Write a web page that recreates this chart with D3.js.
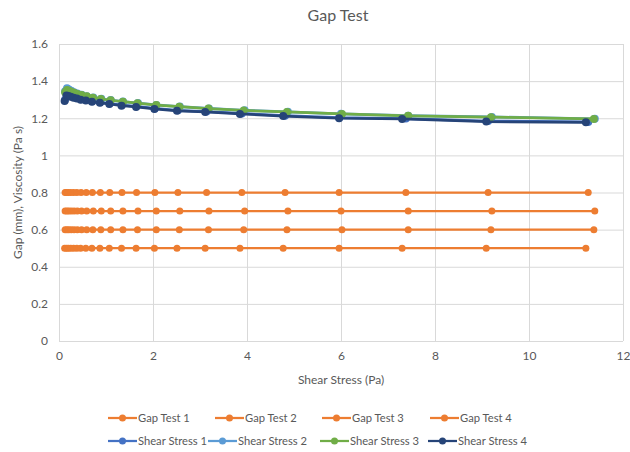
<!DOCTYPE html>
<html><head><meta charset="utf-8">
<script src="https://cdn.jsdelivr.net/npm/d3@7"></script>
<style>body{margin:0;background:#fff}svg{display:block;font-family:Lato,"Open Sans",sans-serif}</style>
</head><body><svg id="c" width="630" height="452"></svg>
<script>
const seriesNames = ["Gap Test 1","Gap Test 2","Gap Test 3","Gap Test 4","Shear Stress 1","Shear Stress 2","Shear Stress 3","Shear Stress 4"];
const xGT1 = [0.13,0.16,0.20,0.25,0.31,0.38,0.47,0.58,0.71,0.88,1.08,1.34,1.65,2.04,2.53,3.14,3.89,4.81,5.96,7.38,9.13,11.26];
const xGT2 = [0.13,0.17,0.21,0.26,0.32,0.39,0.48,0.59,0.73,0.90,1.10,1.36,1.68,2.07,2.57,3.19,3.95,4.87,6.00,7.43,9.21,11.40];
const xGT3 = [0.13,0.17,0.21,0.26,0.32,0.39,0.48,0.59,0.72,0.89,1.10,1.36,1.67,2.07,2.56,3.18,3.93,4.85,6.02,7.43,9.19,11.38];
const xGT4 = [0.12,0.16,0.20,0.25,0.31,0.38,0.46,0.57,0.70,0.87,1.07,1.33,1.64,2.03,2.51,3.11,3.85,4.77,5.96,7.30,9.09,11.21];
const gap1 = 0.8, gap2 = 0.7, gap3 = 0.6, gap4 = 0.5;
const visc1 = [1.300,1.328,1.325,1.320,1.315,1.309,1.303,1.298,1.292,1.286,1.280,1.271,1.264,1.253,1.243,1.236,1.226,1.214,1.203,1.198,1.185,1.180];
const visc2 = [1.345,1.362,1.355,1.348,1.340,1.333,1.326,1.319,1.312,1.305,1.298,1.290,1.282,1.272,1.263,1.253,1.243,1.235,1.224,1.214,1.207,1.197];
const visc3 = [1.340,1.352,1.348,1.343,1.337,1.331,1.325,1.318,1.311,1.304,1.297,1.289,1.281,1.271,1.262,1.252,1.242,1.234,1.223,1.213,1.206,1.196];
const visc4 = [1.293,1.322,1.320,1.316,1.311,1.306,1.300,1.295,1.289,1.283,1.277,1.268,1.261,1.250,1.240,1.234,1.223,1.212,1.200,1.196,1.182,1.178];
const xTicks = [0,2,4,6,8,10,12];
const yTicks = [0,0.2,0.4,0.6,0.8,1,1.2,1.4,1.6];
const colors = ["#ED7D31","#ED7D31","#ED7D31","#ED7D31","#4472C4","#5B9BD5","#70AD47","#264478"];

const series = [
  {name:seriesNames[0], xs:xGT1, ys:xGT1.map(()=>gap1)},
  {name:seriesNames[1], xs:xGT2, ys:xGT2.map(()=>gap2)},
  {name:seriesNames[2], xs:xGT3, ys:xGT3.map(()=>gap3)},
  {name:seriesNames[3], xs:xGT4, ys:xGT4.map(()=>gap4)},
  {name:seriesNames[4], xs:xGT1, ys:visc1},
  {name:seriesNames[5], xs:xGT2, ys:visc2},
  {name:seriesNames[6], xs:xGT3, ys:visc3},
  {name:seriesNames[7], xs:xGT4, ys:visc4}
];
series.forEach((s,i)=>{s.color=colors[i]; s.pts=s.xs.map((x,j)=>[x,s.ys[j]]);});

const svg = d3.select("#c");
const L=59, R=623, T=44, B=341;
const x = d3.scaleLinear().domain([0,12]).range([L,R]);
const y = d3.scaleLinear().domain([0,1.6]).range([B,T]);
const txt="#595959", grid="#D9D9D9";
const FF = "Lato,'Open Sans',sans-serif";

svg.append("text").attr("x",(L+R)/2-3).attr("y",21).attr("text-anchor","middle")
  .attr("font-size",16).attr("fill",txt).text("Gap Test");

// grids
svg.append("g").selectAll("line").data(yTicks).join("line")
  .attr("x1",L).attr("x2",R).attr("y1",d=>y(d)+0.5).attr("y2",d=>y(d)+0.5)
  .attr("stroke",grid).attr("stroke-width",1);
svg.append("g").selectAll("line").data(xTicks).join("line")
  .attr("y1",T).attr("y2",B).attr("x1",d=>Math.round(x(d))+0.5).attr("x2",d=>Math.round(x(d))+0.5)
  .attr("stroke",grid).attr("stroke-width",1);

// axes
const xa = svg.append("g").attr("transform",`translate(0,${B})`)
  .call(d3.axisBottom(x).tickValues(xTicks).tickSize(0).tickPadding(10).tickFormat(d3.format("d")));
xa.select(".domain").remove();
xa.selectAll("text").attr("fill",txt).attr("font-size",12).attr("font-family",FF);
const ya = svg.append("g").attr("transform",`translate(${L},0)`)
  .call(d3.axisLeft(y).tickValues(yTicks).tickSize(0).tickPadding(11).tickFormat(d=>d===0||d===1?String(d):d3.format(".1f")(d)));
ya.select(".domain").remove();
ya.selectAll("text").attr("fill",txt).attr("font-size",12).attr("font-family",FF);

svg.append("text").attr("x",(L+R)/2).attr("y",384).attr("text-anchor","middle")
  .attr("font-size",12).attr("fill",txt).text("Shear Stress (Pa)");
svg.append("text").attr("transform",`translate(22,${(T+B)/2}) rotate(-90)`).attr("text-anchor","middle")
  .attr("font-size",12).attr("fill",txt).text("Gap (mm), Viscosity (Pa s)");

const line = d3.line().x(d=>x(d[0])).y(d=>y(d[1]));
const plot = svg.append("g");
series.forEach(s=>{
  const g = plot.append("g");
  g.append("path").attr("d",line(s.pts)).attr("fill","none").attr("stroke",s.color).attr("stroke-width",s.name.startsWith("Gap")?2.25:2.75);
  g.selectAll("circle").data(s.pts).join("circle").attr("cx",d=>x(d[0])).attr("cy",d=>y(d[1]))
    .attr("r",s.name.startsWith("Gap")?3.5:4).attr("fill",s.color);
});

// legend
const legPos = [[108,418],[215,418],[322,418],[430,418],[108,441],[208,441],[320,441],[428,441]];
series.forEach((s,i)=>{
  const [lx,ly]=legPos[i];
  const g = svg.append("g");
  g.append("line").attr("x1",lx).attr("x2",lx+29).attr("y1",ly).attr("y2",ly).attr("stroke",s.color).attr("stroke-width",2.25);
  g.append("circle").attr("cx",lx+14.5).attr("cy",ly).attr("r",3.5).attr("fill",s.color);
  g.append("text").attr("x",lx+30).attr("y",ly+4).attr("font-size",11.2).attr("fill",txt).text(s.name);
});
</script></body></html>
